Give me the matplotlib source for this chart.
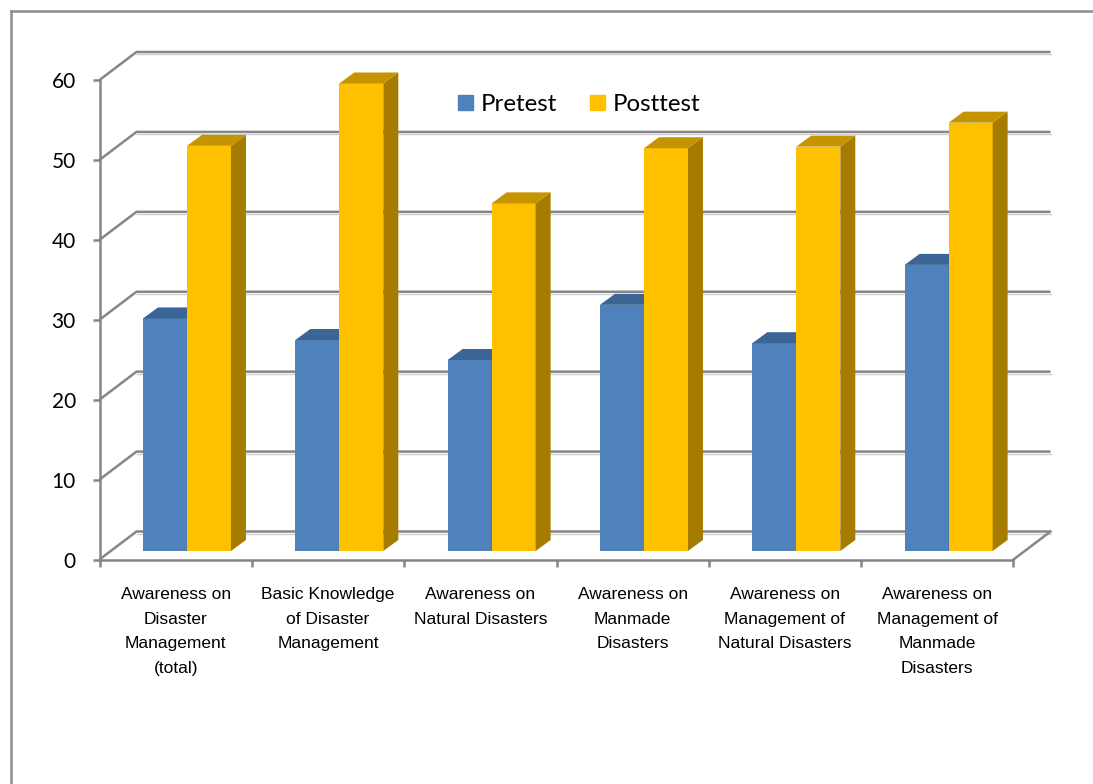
import matplotlib
matplotlib.use("Agg")
import matplotlib.pyplot as plt
from matplotlib.lines import Line2D
from matplotlib.patches import Patch, Polygon
from matplotlib.transforms import Affine2D

categories = [
    "Awareness on\nDisaster\nManagement\n(total)",
    "Basic Knowledge\nof Disaster\nManagement",
    "Awareness on\nNatural Disasters",
    "Awareness on\nManmade\nDisasters",
    "Awareness on\nManagement of\nNatural Disasters",
    "Awareness on\nManagement of\nManmade\nDisasters",
]
pretest = [29.1, 26.4, 23.9, 30.8, 26.0, 35.8]
posttest = [50.7, 58.5, 43.5, 50.4, 50.6, 53.6]
y_ticks = [0, 10, 20, 30, 40, 50, 60]

W, H = 1093, 784
GRID = "#868686"
BLUE, BLUE_TOP, BLUE_SIDE = "#4F81BD", "#3A6595", "#3A6595"
GOLD, GOLD_TOP, GOLD_SIDE = "#FFC000", "#C49500", "#A67C00"

fig = plt.figure(figsize=(W / 100, H / 100), dpi=100, facecolor="white")
L, R, B, T = 99.5, 1013.5, 559.5, 80.0
ax = fig.add_axes([L / W, 1 - B / H, (R - L) / W, (B - T) / H])
ax.set_xlim(0, 6)
ax.set_ylim(0, 60)
ax.patch.set_visible(False)

px_x = 6 / (R - L)
px_y = 60 / (B - T)
lw2 = 2.5 * 72 / 100

# outer chart frame, cropped at right and bottom
fig.add_artist(Line2D([11 / W, 11 / W], [0, 1 - 11 / H], color="#8C8C8C", lw=lw2))
fig.add_artist(Line2D([11 / W, 1], [1 - 11 / H, 1 - 11 / H], color="#8C8C8C", lw=lw2))

# 3D walls: depth drawn as a pixel offset from the front plane
dx, dy = 37, 28
for v in y_ticks:
    ax.plot([0, dx * px_x, 6 + dx * px_x], [v, v + dy * px_y, v + dy * px_y],
            color=GRID, lw=lw2, clip_on=False, zorder=1, solid_joinstyle="miter",
            solid_capstyle="butt")
    ax.plot([dx * px_x, 6 + dx * px_x], [v + (dy - 2) * px_y] * 2,
            color="#CFCFCF", lw=1.0, clip_on=False, zorder=0.9)
ax.plot([6, 6 + dx * px_x], [0, dy * px_y], color=GRID, lw=lw2, clip_on=False, zorder=1)

# bars
shift = ax.transData + Affine2D().translate(11.3, 8.5)
bw = 44 * px_x
sx, sy = 15 * px_x, 11 * px_y


def bar3d(x0, val, front, top, side, z):
    ax.bar(x0, val, bw, align="edge", color=front, transform=shift, clip_on=False, zorder=z)
    x1 = x0 + bw
    ax.add_patch(Polygon([(x1, 0), (x1 + sx, sy), (x1 + sx, val + sy), (x1, val)],
                         closed=True, fc=side, ec="none", transform=shift,
                         clip_on=False, zorder=z))
    ax.add_patch(Polygon([(x0, val), (x1, val), (x1 + sx, val + sy), (x0 + sx, val + sy)],
                         closed=True, fc=top, ec="none", transform=shift,
                         clip_on=False, zorder=z))


for i, (a, b) in enumerate(zip(pretest, posttest)):
    bar3d(i + 0.5 - bw, a, BLUE, BLUE_TOP, BLUE_SIDE, 3)
    bar3d(i + 0.5, b, GOLD, GOLD_TOP, GOLD_SIDE, 4)

# axes
for s in ("top", "right"):
    ax.spines[s].set_visible(False)
for s in ("left", "bottom"):
    ax.spines[s].set_color(GRID)
    ax.spines[s].set_linewidth(lw2)
    ax.spines[s].set_zorder(5)

ax.set_yticks(y_ticks)
ax.tick_params(axis="y", length=5, width=lw2, color=GRID, pad=12)
for t in ax.get_yticklabels():
    t.set_fontfamily("Lato")
    t.set_fontsize(15)
    t.set_color("black")

ax.set_xticks(range(7))
ax.set_xticklabels([])
ax.tick_params(axis="x", which="major", length=5, width=lw2, color=GRID)
ax.set_xticks([i + 0.5 for i in range(6)], minor=True)
ax.set_xticklabels(categories, minor=True, fontfamily="Liberation Sans", fontsize=12.5,
                   linespacing=1.79, color="black")
ax.tick_params(axis="x", which="minor", length=0, pad=20)

handles = [Patch(color=BLUE, label="Pretest"), Patch(color=GOLD, label="Posttest")]
fig.legend(handles=handles, loc="center left", bbox_to_anchor=(458 / W, 1 - 104.5 / H),
           ncol=2, frameon=False, borderpad=0, borderaxespad=0,
           handlelength=0.63, handleheight=0.63, handletextpad=0.3, columnspacing=1.4,
           prop={"family": "Lato", "size": 17.3})

fig.savefig("out.png", dpi=100)
